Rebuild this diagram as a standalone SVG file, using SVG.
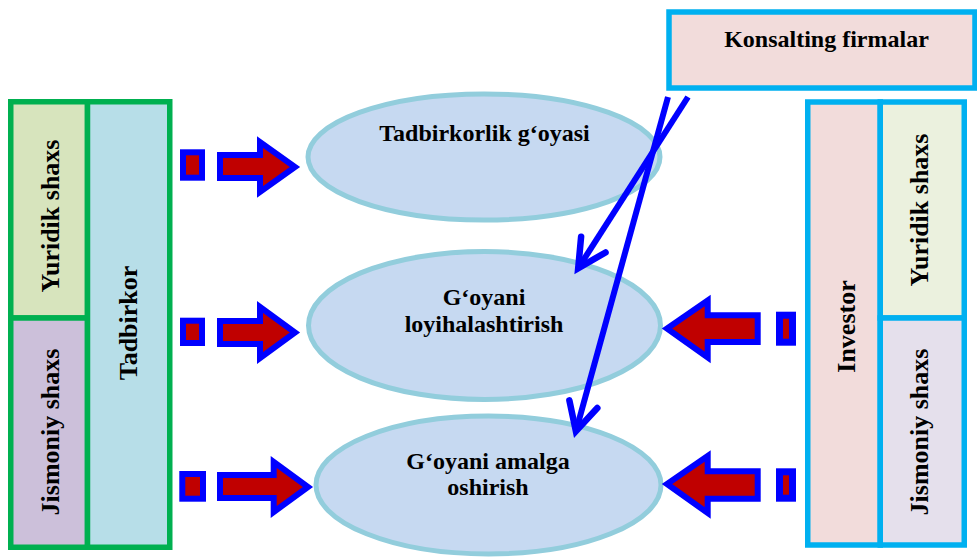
<svg xmlns="http://www.w3.org/2000/svg" width="977" height="559" viewBox="0 0 977 559">
  <style>
    .lbl { font-family: "Liberation Serif", "DejaVu Serif", serif; font-weight: bold; fill: #000; text-anchor: middle; }
    .h { font-size: 24px; }
    .v { font-size: 26px; }
    .gcell { stroke: #00b050; stroke-width: 5.5; }
    .bcell { stroke: #00b0f0; stroke-width: 5.5; }
    .oval { fill: #c6d9f1; stroke: #92cddc; stroke-width: 5; }
    .fat { fill: #c00000; stroke: #0000ff; stroke-width: 6; stroke-linejoin: miter; stroke-miterlimit: 10; }
    .sq { fill: #c00000; stroke: #0000ff; stroke-width: 6; }
    .sq7 { fill: #c00000; stroke: #0000ff; stroke-width: 7; }
    .link { fill: none; stroke: #0000ff; stroke-width: 6; stroke-linecap: butt; }
  </style>
  <defs>
    <marker id="vhead" markerUnits="userSpaceOnUse" markerWidth="44" markerHeight="44" viewBox="-36 -22 44 44" refX="0" refY="0" orient="auto" overflow="visible">
      <path d="M -28,-14.5 L 0,0 L -28,14.5" fill="none" stroke="#0000ff" stroke-width="6.5" stroke-linecap="round" stroke-linejoin="miter"/>
    </marker>
  </defs>

  <!-- Left block: Tadbirkor -->
  <g id="tadbirkor-yuridik">
    <rect class="gcell" x="10.75" y="101.75" width="76.75" height="216.25" fill="#d7e4bd"/>
    <text class="lbl v" transform="translate(59,216) rotate(-90)">Yuridik shaxs</text>
  </g>
  <g id="tadbirkor-jismoniy">
    <rect class="gcell" x="10.75" y="318" width="76.75" height="229.25" fill="#ccc0da"/>
    <text class="lbl v" transform="translate(59,432) rotate(-90)">Jismoniy shaxs</text>
  </g>
  <g id="tadbirkor">
    <rect class="gcell" x="87.5" y="101.75" width="82.25" height="445.5" fill="#b7dee8"/>
    <text class="lbl v" transform="translate(137,323) rotate(-90)">Tadbirkor</text>
  </g>

  <!-- Right block: Investor -->
  <g id="investor">
    <rect class="bcell" x="807.75" y="102" width="72.5" height="443" fill="#f2dcdb"/>
    <text class="lbl v" transform="translate(855,326.5) rotate(-90)">Investor</text>
  </g>
  <g id="investor-yuridik">
    <rect class="bcell" x="880.25" y="102" width="84" height="216" fill="#ebf1de"/>
    <text class="lbl v" transform="translate(928,210) rotate(-90)">Yuridik shaxs</text>
  </g>
  <g id="investor-jismoniy">
    <rect class="bcell" x="880.25" y="318" width="84" height="227" fill="#e5e0ec"/>
    <text class="lbl v" transform="translate(928,432) rotate(-90)">Jismoniy shaxs</text>
  </g>

  <!-- Konsalting -->
  <g id="konsalting">
    <rect class="bcell" x="669" y="12" width="306" height="76" fill="#f2dcdb"/>
    <text class="lbl h" x="826.5" y="47">Konsalting firmalar</text>
  </g>

  <!-- Ellipses -->
  <g id="goya">
    <ellipse class="oval" cx="484" cy="157" rx="176" ry="63"/>
    <text class="lbl h" x="484.5" y="141">Tadbirkorlik g‘oyasi</text>
  </g>
  <g id="loyiha">
    <ellipse class="oval" cx="484.5" cy="325.5" rx="176" ry="74"/>
    <text class="lbl h" x="484" y="305">G‘oyani</text>
    <text class="lbl h" x="484" y="332">loyihalashtirish</text>
  </g>
  <g id="amalga">
    <ellipse class="oval" cx="488.5" cy="485" rx="172.5" ry="69"/>
    <text class="lbl h" x="488" y="469">G‘oyani amalga</text>
    <text class="lbl h" x="488" y="495">oshirish</text>
  </g>

  <!-- Connectors -->
  <g id="connectors">
    <!-- left fat arrows -->
    <rect class="sq" x="183" y="152.3" width="19" height="25.4"/>
    <polygon class="fat" points="220,155 260,155 260,142 295,167 260,192 260,178 220,178"/>
    <rect class="sq" x="183" y="320.7" width="19" height="22.3"/>
    <polygon class="fat" points="220,321 260,321 260,307 295,332.5 260,358 260,344 220,344"/>
    <rect class="sq" x="182.3" y="474" width="20.7" height="24.7"/>
    <polygon class="fat" points="220,475 273.7,475 273.7,462 308,487 273.7,512 273.7,498 220,498"/>

    <!-- right fat arrows -->
    <rect class="sq7" x="779.5" y="315.2" width="13" height="27"/>
    <polygon class="fat" points="757.7,315.3 707.7,315.3 707.7,300.5 667,328.5 707.7,357.5 707.7,342 757.7,342"/>
    <rect class="sq7" x="779.5" y="471.8" width="13" height="26.4"/>
    <polygon class="fat" points="757.7,471.3 707.7,471.3 707.7,456 667,484 707.7,513 707.7,498.7 757.7,498.7"/>

    <!-- consulting links -->
    <line class="link" x1="668" y1="97" x2="575.9" y2="431.2" marker-end="url(#vhead)"/>
    <line class="link" x1="688" y1="97" x2="578.2" y2="268.2" marker-end="url(#vhead)"/>
  </g>
</svg>
